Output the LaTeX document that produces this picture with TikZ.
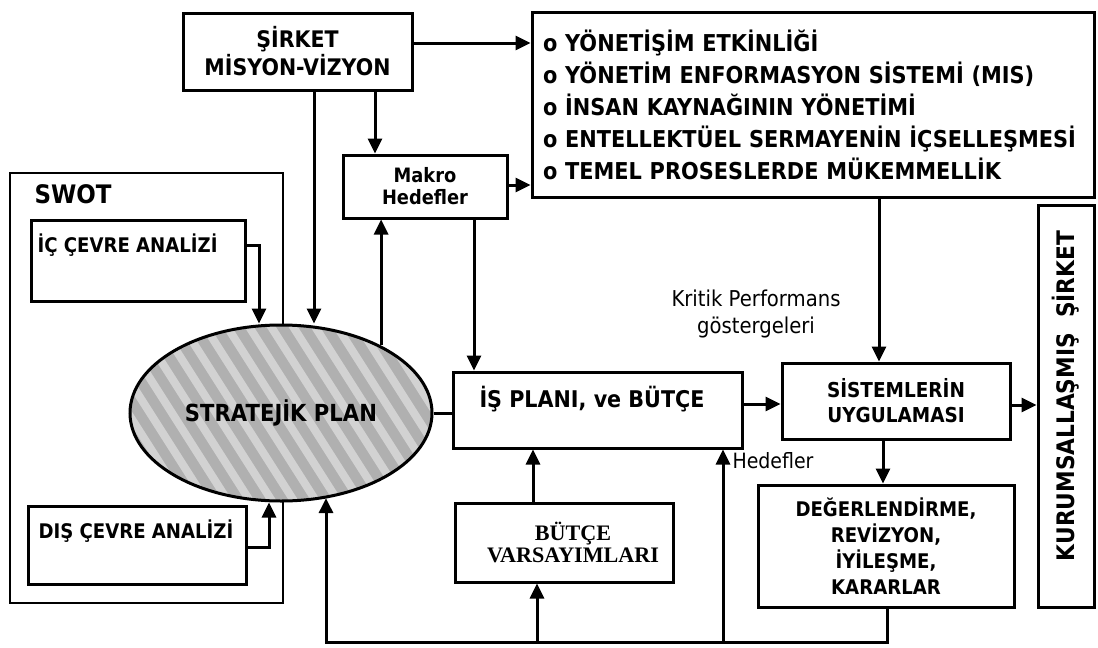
\documentclass[tikz,border=0pt]{standalone}
\usepackage{fontspec}
\usetikzlibrary{arrows.meta,shapes.geometric}
\newfontfamily\tah[FakeStretch=0.9]{DejaVu Sans}
\newfontfamily\hs{Liberation Serif}
\newlength\mylen
\newcommand\calcfs[4]{\settowidth\mylen{#2\fontsize{20pt}{20pt}\selectfont #3}\pgfmathsetmacro#1{20/\mylen*#4}}
\begin{document}
\calcfs{\fsList}{\tah\bfseries}{ENTELLEKTÜEL SERMAYENİN İÇSELLEŞMESİ}{510}
\calcfs{\fsSir}{\tah\bfseries}{MİSYON-VİZYON}{186}
\calcfs{\fsMak}{\tah\bfseries}{Hedefler}{86}
\calcfs{\fsSwot}{\tah\bfseries}{SWOT}{77}
\calcfs{\fsIc}{\tah\bfseries}{İÇ ÇEVRE ANALİZİ}{180}
\calcfs{\fsStr}{\tah\bfseries}{STRATEJİK PLAN}{192}
\calcfs{\fsIs}{\tah\bfseries}{İŞ PLANI, ve BÜTÇE}{225}
\calcfs{\fsBut}{\hs\bfseries}{VARSAYIMLARI}{172}
\calcfs{\fsSis}{\tah\bfseries}{SİSTEMLERİN}{138}
\calcfs{\fsDeg}{\tah\bfseries}{DEĞERLENDİRME,}{181}
\calcfs{\fsKur}{\tah\bfseries}{KURUMSALLAŞMIŞ\ \ ŞİRKET}{330}
\calcfs{\fsKri}{\tah}{Kritik Performans}{169}
\calcfs{\fsHed}{\tah}{Hedefler}{81}
\begin{tikzpicture}[x=1pt,y=-1pt,
  box/.style={draw,line width=3pt,fill=white,inner sep=0pt,align=center},
  arr/.style={line width=3pt,-{Triangle[length=15pt,width=14pt]}},
  ln/.style={line width=3pt}]
\path[use as bounding box,fill=white] (0,0) rectangle (1098,648);

% helper coordinates
\coordinate (h43) at (0,43);
\coordinate (h185) at (0,185);
\coordinate (h245) at (0,245);
\coordinate (h547) at (0,547);
\coordinate (h404) at (0,404);
\coordinate (h405) at (0,405);
\coordinate (yb) at (0,642);
\coordinate (v314) at (314,0);
\coordinate (v375) at (375,0);
\coordinate (v259) at (259,0);
\coordinate (v269) at (269,0);
\coordinate (v474) at (474,0);
\coordinate (v533) at (533,0);
\coordinate (v537) at (537,0);
\coordinate (v723) at (723,0);
\coordinate (v879) at (879,0);
\coordinate (v883) at (883,0);
\coordinate (v887) at (887,0);
\coordinate (v326) at (326,0);

% SWOT frame
\node[draw,line width=2.4pt,minimum width=273pt,minimum height=430pt,inner sep=0pt] (swot) at (146.5,388) {};
\node[anchor=west,font=\tah\bfseries\fontsize{\fsSwot}{\fsSwot}\selectfont] (swotl) at (31,194) {SWOT};

% boxes
\node[box,font=\tah\bfseries\fontsize{\fsSir}{28}\selectfont,minimum width=229pt,minimum height=77pt] (sirket) at (297.5,51.5) {ŞİRKET\\MİSYON-VİZYON};
\node[box,minimum width=562pt,minimum height=185pt,text width=540pt,align=left,
      font=\tah\bfseries\fontsize{\fsList}{32}\selectfont] (list) at (813,105)
  {o\ YÖNETİŞİM ETKİNLİĞİ\\o\ YÖNETİM ENFORMASYON SİSTEMİ (MIS)\\o\ İNSAN KAYNAĞININ YÖNETİMİ\\o\ ENTELLEKTÜEL SERMAYENİN İÇSELLEŞMESİ\\o\ TEMEL PROSESLERDE MÜKEMMELLİK};
\node[box,font=\tah\bfseries\fontsize{\fsMak}{22}\selectfont,minimum width=164pt,minimum height=63pt] (makro) at (425,186.5) {Makro\\Hedefler};

\node[box,minimum width=214pt,minimum height=81pt] (ic) at (138,260.5) {};
\node[anchor=west,font=\tah\bfseries\fontsize{\fsIc}{\fsIc}\selectfont] (ict) at (34,245) {İÇ ÇEVRE ANALİZİ};
\node[box,minimum width=218pt,minimum height=78pt] (dis) at (137,545) {};
\node[anchor=west,font=\tah\bfseries\fontsize{\fsIc}{\fsIc}\selectfont] (dist) at (35,531) {DIŞ ÇEVRE ANALİZİ};

\node[ellipse,draw,line width=3pt,minimum width=302pt,minimum height=176pt,inner sep=0pt,
      fill=gray!62,
      path picture={\foreach \i in {-300,-278,...,380}
        {\draw[gray!35,line width=8pt] ([xshift=\i pt]path picture bounding box.north west) -- ++(140pt,-220pt);}},
      font=\tah\bfseries\fontsize{\fsStr}{\fsStr}\selectfont] (strat) at (281,413) {STRATEJİK PLAN};

\node[box,minimum width=289pt,minimum height=76pt] (is) at (597.5,410) {};
\node[font=\tah\bfseries\fontsize{\fsIs}{\fsIs}\selectfont] (ist) at (592,399) {İŞ PLANI, ve BÜTÇE};
\node[box,minimum width=218pt,minimum height=79pt] (butce) at (564,542.5) {};
\node[align=center,font=\hs\bfseries\fontsize{\fsBut}{22}\selectfont] (butcet) at (573,542) {BÜTÇE\\VARSAYIMLARI};

\node[box,font=\tah\bfseries\fontsize{\fsSis}{25}\selectfont,minimum width=228pt,minimum height=76pt] (sis) at (896,401) {SİSTEMLERİN\\UYGULAMASI};
\node[box,font=\tah\bfseries\fontsize{\fsDeg}{26}\selectfont,minimum width=256pt,minimum height=122pt] (deg) at (886,546) {DEĞERLENDİRME,\\REVİZYON,\\İYİLEŞME,\\KARARLAR};
\node[box,minimum width=56pt,minimum height=402pt] (kurum) at (1066,406) {};
\node[font=\tah\bfseries\fontsize{\fsKur}{\fsKur}\selectfont] (kurumt) at (1066,396) {\rotatebox{90}{KURUMSALLAŞMIŞ\ \ ŞİRKET}};

% labels
\node[align=center,font=\tah\fontsize{\fsKri}{27}\selectfont] (kpi) at (756,314) {Kritik Performans\\göstergeleri};
\node[anchor=west,font=\tah\fontsize{\fsHed}{\fsHed}\selectfont] (hed) at (729,461) {Hedefler};

% connectors
\draw[arr] (sirket.east |- h43) -- (list.west |- h43);
\draw[arr] (sirket.south -| v375) -- (makro.north -| v375);
\draw[arr] (sirket.south -| v314) -- (strat.north -| v314);
\draw[arr] (ic.east |- h245) -| (strat.north -| v259);
\draw[arr] (dis.east |- h547) -| (strat.south -| v269);
\draw[arr] (makro.east |- h185) -- (list.west |- h185);
\draw[arr] (strat.34.6) -- (strat.34.6 |- makro.south);
\draw[arr] (makro.south -| v474) -- (is.north -| v474);
\draw[ln] (strat.east) -- (strat.east -| is.west);
\draw[arr] (butce.north -| v533) -- (is.south -| v533);
\draw[arr] (deg.south -| v887) -- (v887 |- yb) -- (v326 |- yb) -- (strat.-61.8 -| v326);
\draw[arr] (v537 |- yb) -- (butce.south -| v537);
\draw[arr] (v723 |- yb) -- (is.south -| v723);
\draw[arr] (is.east |- h404) -- (sis.west |- h404);
\draw[arr] (list.south -| v879) -- (sis.north -| v879);
\draw[arr] (sis.south -| v883) -- (deg.north -| v883);
\draw[arr] (sis.east |- h405) -- (kurum.west |- h405);
\end{tikzpicture}
\end{document}
